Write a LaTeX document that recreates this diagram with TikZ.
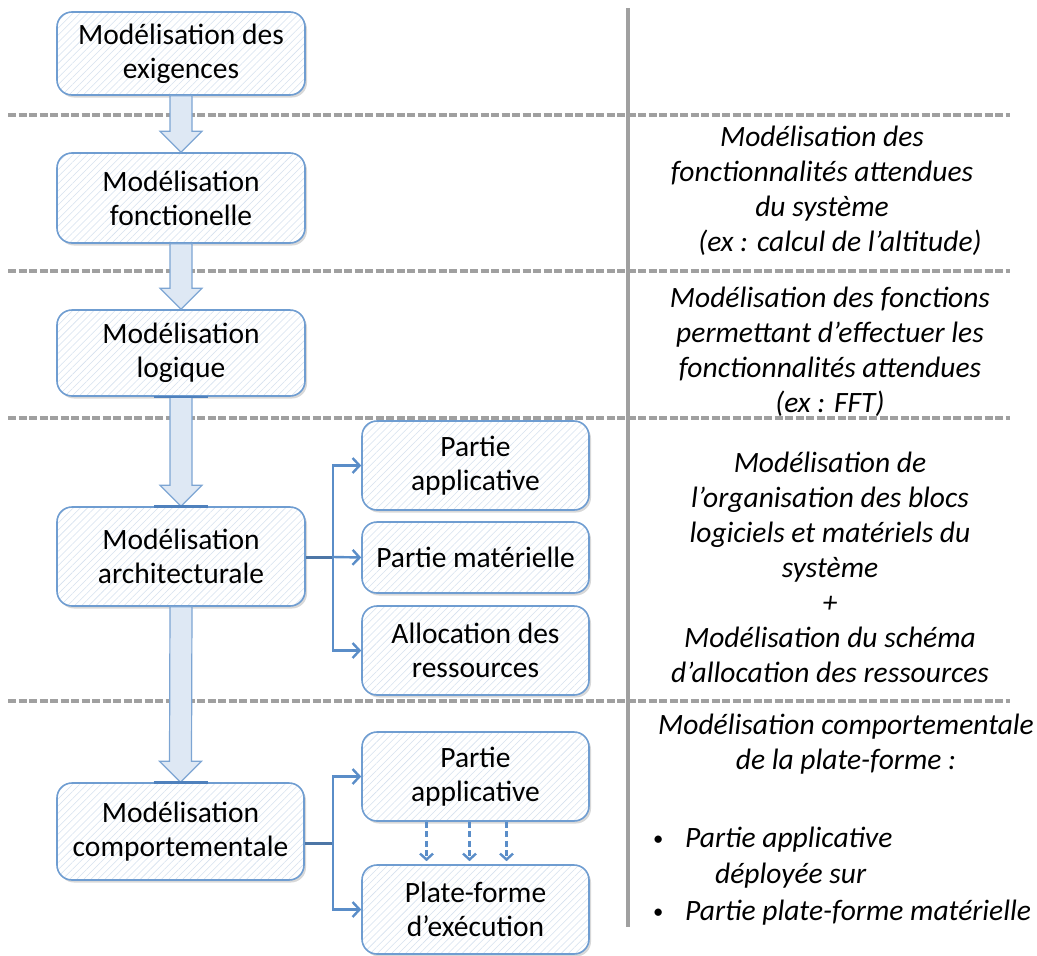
\documentclass[tikz,border=0pt]{standalone}
\usepackage{fontspec}
\setmainfont{Carlito}
\usetikzlibrary{arrows.meta,calc,patterns.meta,shadows}

\definecolor{boxline}{HTML}{6F9DD1}
\definecolor{hatch}{HTML}{D6E1EF}
\definecolor{arrfill}{HTML}{DEE8F4}
\definecolor{arrline}{HTML}{7DA5D3}
\definecolor{conn}{HTML}{5A8DC8}
\definecolor{stub}{HTML}{4D76A6}
\definecolor{accent}{HTML}{4F81BD}
\definecolor{sep}{HTML}{A0A0A0}

\tikzset{
  stepbox/.style={draw=boxline, line width=1.6pt, rounded corners=15pt,
    drop shadow={shadow xshift=2pt, shadow yshift=-2.5pt, opacity=0.22, fill=black!70},
    preaction={fill=white},
    preaction={pattern={Lines[angle=45,distance=5pt,line width=0.55pt]}, pattern color=hatch},
    align=center, inner sep=0pt, font=\fontsize{29.5}{34}\selectfont},
  leftbox/.style={stepbox, minimum width=248pt},
  rightbox/.style={stepbox, minimum width=227pt, minimum height=89pt},
  barrow/.style={fill=arrfill, draw=arrline, line width=1.2pt, line join=miter},
  accentbar/.style={draw=accent, line width=2.6pt},
  link/.style={draw=conn, line width=2.4pt, -{Straight Barb[length=7pt,width=15pt]}},
  linkstub/.style={draw=stub, line width=3pt},
  dashlink/.style={draw=conn, line width=2.4pt, dash pattern=on 6pt off 3.5pt,
    -{Straight Barb[length=6pt,width=13pt]}},
  sepdash/.style={draw=sep, line width=3.4pt, dash pattern=on 8pt off 2.5pt},
  sepline/.style={draw=sep, line width=3.5pt},
  note/.style={font=\itshape\fontsize{29.5}{35}\selectfont, align=center, inner sep=0pt},
}

% wide hollow arrow between two stacked boxes
\newcommand\blockarrow[2]{%
  \draw[barrow] ($(#1)+(-11,0)$) -- ($(#2)+(-11,-21)$) -- ($(#2)+(-21,-21)$) -- (#2)
    -- ($(#2)+(21,-21)$) -- ($(#2)+(11,-21)$) -- ($(#1)+(11,0)$) -- cycle;}
% small upright bullet for the list items
\newcommand\itembullet{\makebox[32pt][l]{\upshape\raisebox{2pt}{\scalebox{0.7}{•}}}}

\begin{document}
\begin{tikzpicture}[x=1pt,y=-1pt]
\useasboundingbox (0,0) rectangle (1037,956);

% layer separators
\foreach \yy in {115,271,418,701}
  \draw[sepdash] (8,\yy) -- (1010,\yy);
\draw[sepline] (628,8) -- (628,927);

% modelling levels
\node[leftbox, minimum height=83pt] (b1) at (181,53.5) {Modélisation des\\exigences};
\node[leftbox, minimum height=90pt] (b2) at (181,198) {Modélisation\\fonctionelle};
\node[leftbox, minimum height=86pt] (b3) at (181,353) {Modélisation\\logique};
\node[leftbox, minimum height=99pt] (b4) at (181,556.5) {Modélisation\\architecturale};
\node[leftbox, minimum height=97pt, minimum width=247pt] (b5) at (180.5,831.5) {Modélisation\\comportementale};

% architectural parts
\node[rightbox] (r1) at (475.5,465.5) {Partie\\applicative};
\node[rightbox, minimum height=71pt] (r2) at (475.5,557.5) {Partie matérielle};
\node[rightbox] (r3) at (475.5,650.5) {Allocation des\\ressources};

% behavioural parts
\node[rightbox] (r4) at (475.5,776.5) {Partie\\applicative};
\node[rightbox] (r5) at (475.5,909.5) {Plate-forme\\d’exécution};

% flow between levels
\blockarrow{b1.south}{b2.north}
\blockarrow{b2.south}{b3.north}
\blockarrow{b3.south}{b4.north}
\blockarrow{b4.south}{b5.north}

\draw[accentbar] ($(b3.south)+(-27,0)$) -- ($(b3.south)+(27,0)$);
\draw[accentbar] ($(b4.north)+(-27,0)$) -- ($(b4.north)+(27,0)$);
\draw[accentbar] ($(b5.north)+(-27,0)$) -- ($(b5.north)+(27,0)$);

% architectural fan-out
\coordinate (j1) at (333,557);
\draw[linkstub] (b4.east |- j1) -- (j1);
\draw[link] (j1) |- (r1.west);
\draw[link] (j1) -- (r2.west);
\draw[link] (j1) |- (r3.west);

% behavioural fan-out
\coordinate (j2) at (333,843);
\draw[linkstub] (b5.east |- j2) -- (j2);
\draw[link] (j2) |- (r4.west);
\draw[link] (j2) |- (r5.west);

% deployment of the application onto the platform
\foreach \dx in {-49,-6,31}
  \draw[dashlink] ($(r4.south)+(\dx,0)$) -- ($(r5.north)+(\dx,-3)$);

% descriptions
\node[note] (n1) at (822,191) {Modélisation des\\fonctionnalités attendues\\du système\\\hspace*{36pt}(ex : calcul de l’altitude)};
\node[note] (n2) at (830,352) {Modélisation des fonctions\\permettant d’effectuer les\\fonctionnalités attendues\\(ex : FFT)};
\node[note] (n3) at (830,567) {Modélisation de\\l’organisation des blocs\\logiciels et matériels du\\système\\+\\Modélisation du schéma\\d’allocation des ressources};
\node[note] (n4) at (846,744) {Modélisation comportementale\\de la plate-forme :};
\node[note, anchor=base west] (n5) at (653,847) {\itembullet Partie applicative};
\node[note, anchor=base west] (n6) at (715,883) {déployée sur};
\node[note, anchor=base west] (n7) at (653,920) {\itembullet Partie plate-forme matérielle};
\end{tikzpicture}
\end{document}
